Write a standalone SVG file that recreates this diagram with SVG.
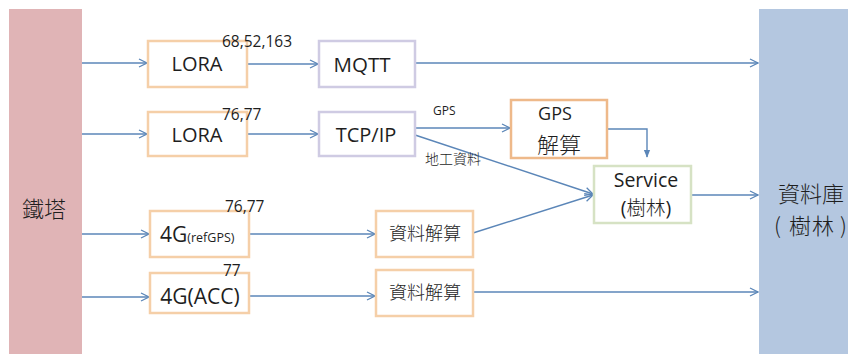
<svg xmlns="http://www.w3.org/2000/svg" width="855" height="354" viewBox="0 0 855 354">
  <style>
    .t { font-family: "Open Sans", "Noto Sans", "Noto Sans CJK TC", sans-serif; fill: #1e1e1e; }
    .cjk { font-family: "Noto Sans CJK TC", "Noto Sans", sans-serif; font-weight: 300; }
    .box-o { fill: #ffffff; stroke: #f5cfa8; stroke-width: 2.5; }
    .box-o2 { fill: #ffffff; stroke: #eeb98a; stroke-width: 2.5; }
    .box-p { fill: #ffffff; stroke: #cfcbe3; stroke-width: 2.5; }
    .box-g { fill: #ffffff; stroke: #d6e2c4; stroke-width: 2.5; }
    .conn { fill: none; stroke: #5b86b8; stroke-width: 1.4; }
  </style>
  <defs>
    <marker id="open" viewBox="0 0 10 10" refX="9" refY="5" markerWidth="10" markerHeight="10" markerUnits="userSpaceOnUse" orient="auto">
      <path d="M1,1 L9,5 L1,9" fill="none" stroke="#5b86b8" stroke-width="1.3"/>
    </marker>
    <marker id="solid" viewBox="0 0 10 10" refX="9" refY="5" markerWidth="8" markerHeight="8" markerUnits="userSpaceOnUse" orient="auto">
      <path d="M0,1 L10,5 L0,9 Z" fill="#5b86b8"/>
    </marker>
  </defs>

  <rect width="855" height="354" fill="#ffffff"/>

  <!-- tower column -->
  <g id="tower">
    <rect x="9" y="9" width="73" height="345" fill="#e0b4b6"/>
    <text class="t cjk" x="44" y="217" font-size="22" text-anchor="middle" fill="#3a3a3a">鐵塔</text>
  </g>

  <!-- database column -->
  <g id="database">
    <rect x="759" y="9" width="89" height="345" fill="#b4c7e0"/>
    <text class="t cjk" x="811" y="202" font-size="22" text-anchor="middle" fill="#3a3a3a">資料庫</text>
    <text class="t cjk" x="774 789 812 840" y="234" font-size="22" fill="#3a3a3a">(樹林)</text>
  </g>

  <!-- connectors -->
  <g id="connectors">
    <line class="conn" x1="82" y1="63" x2="147" y2="63" marker-end="url(#open)"/>
    <line class="conn" x1="247" y1="64" x2="318" y2="64" marker-end="url(#open)"/>
    <line class="conn" x1="415" y1="63" x2="758" y2="63" marker-end="url(#open)"/>

    <line class="conn" x1="82" y1="134" x2="147" y2="134" marker-end="url(#open)"/>
    <line class="conn" x1="247" y1="134" x2="318" y2="134" marker-end="url(#open)"/>
    <line class="conn" x1="415" y1="128" x2="510" y2="128" marker-end="url(#open)"/>
    <line class="conn" x1="415" y1="135" x2="593" y2="194" marker-end="url(#open)"/>
    <polyline class="conn" points="607,129 647,129 647,157" marker-end="url(#solid)"/>

    <line class="conn" x1="691" y1="195" x2="758" y2="195" marker-end="url(#open)"/>
    <line class="conn" x1="473" y1="233" x2="593" y2="195" marker-end="url(#open)"/>

    <line class="conn" x1="82" y1="234" x2="149" y2="234" marker-end="url(#open)"/>
    <line class="conn" x1="249" y1="234" x2="375" y2="234" marker-end="url(#open)"/>

    <line class="conn" x1="82" y1="297" x2="149" y2="297" marker-end="url(#open)"/>
    <line class="conn" x1="249" y1="296" x2="375" y2="296" marker-end="url(#open)"/>
    <line class="conn" x1="473" y1="292" x2="758" y2="292" marker-end="url(#open)"/>

    <text class="t" x="433" y="115" font-size="12">GPS</text>
    <text class="t cjk" x="425" y="164" font-size="14" fill="#777">地工資料</text>
  </g>

  <g id="lora1">
    <rect class="box-o" x="148" y="41" width="99" height="46"/>
    <text class="t" x="197" y="71" font-size="20" text-anchor="middle">LORA</text>
    <text class="t" x="222" y="47" font-size="15.5">68,52,163</text>
  </g>

  <g id="mqtt">
    <rect class="box-p" x="319" y="41" width="96" height="46"/>
    <text class="t" x="362" y="72" font-size="20.5" text-anchor="middle">MQTT</text>
  </g>

  <g id="lora2">
    <rect class="box-o" x="148" y="112" width="99" height="44"/>
    <text class="t" x="197" y="142" font-size="20" text-anchor="middle">LORA</text>
    <text class="t" x="222" y="120" font-size="15.5">76,77</text>
  </g>

  <g id="tcpip">
    <rect class="box-p" x="319" y="112" width="96" height="44"/>
    <text class="t" x="366" y="142" font-size="20" text-anchor="middle">TCP/IP</text>
  </g>

  <g id="gps-solve">
    <rect class="box-o2" x="511" y="100" width="96" height="58"/>
    <text class="t" x="555" y="120" font-size="18" text-anchor="middle">GPS</text>
    <text class="t cjk" x="559" y="153" font-size="22" text-anchor="middle" fill="#555">解算</text>
  </g>

  <g id="service">
    <rect class="box-g" x="594" y="166" width="97" height="57"/>
    <text class="t" x="646" y="187" font-size="19.5" text-anchor="middle">Service</text>
    <text class="t" x="646" y="215" font-size="19.5" text-anchor="middle">(<tspan class="cjk">樹林</tspan>)</text>
  </g>

  <g id="g4-refgps">
    <rect class="box-o" x="150" y="211" width="99" height="46"/>
    <text class="t" x="160" y="242" font-size="21">4G<tspan font-size="12.5">(refGPS)</tspan></text>
    <text class="t" x="225" y="212" font-size="15.5">76,77</text>
  </g>

  <g id="solve1">
    <rect class="box-o" x="376" y="211" width="97" height="46"/>
    <text class="t cjk" x="425" y="240" font-size="18" text-anchor="middle" fill="#666">資料解算</text>
  </g>

  <g id="g4-acc">
    <rect class="box-o" x="150" y="273" width="99" height="40"/>
    <text class="t" x="200" y="304" font-size="21" text-anchor="middle">4G(ACC)</text>
    <text class="t" x="223" y="276" font-size="15.5">77</text>
  </g>

  <g id="solve2">
    <rect class="box-o" x="376" y="270" width="97" height="46"/>
    <text class="t cjk" x="425" y="299" font-size="18" text-anchor="middle" fill="#666">資料解算</text>
  </g>
</svg>
